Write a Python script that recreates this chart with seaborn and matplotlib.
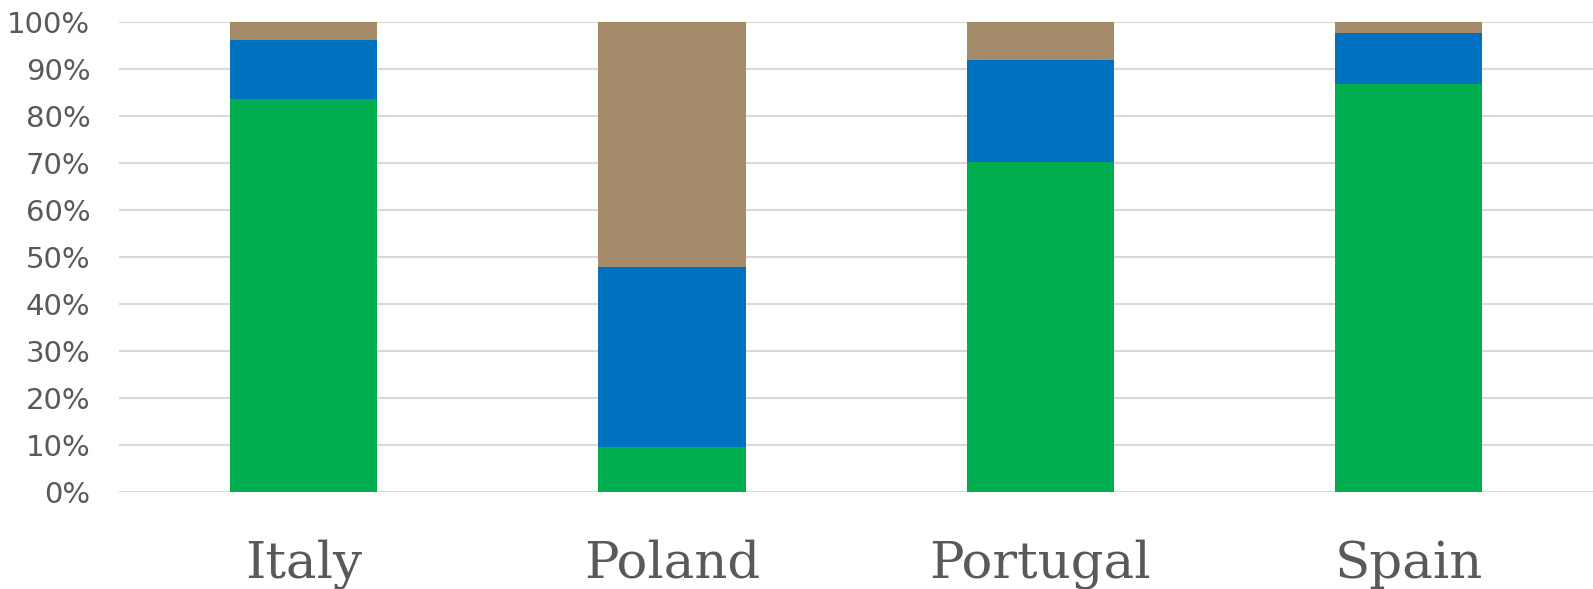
import numpy as np
import pandas as pd
import matplotlib.pyplot as plt
import seaborn as sns

# shares per country (percent)
countries = ['Italy', 'Poland', 'Portugal', 'Spain']
green_share = [83.6, 9.6, 70.3, 86.8]
blue_share = [12.6, 38.2, 21.6, 10.8]
brown_share = [3.8, 52.2, 8.1, 2.4]

df = pd.DataFrame({'country': countries,
                   'green': green_share,
                   'blue': blue_share,
                   'brown': brown_share})
df['green_blue'] = df['green'] + df['blue']
df['total'] = df['green_blue'] + df['brown']

sns.set_style('white')
plt.rcParams['font.family'] = ['DejaVu Sans']

fig = plt.figure(figsize=(15.93, 5.89), dpi=100)
ax = fig.add_axes([0.075, 0.1647, 0.925, 0.798])

# stacked bars drawn as overlapping cumulative totals
sns.barplot(x='country', y='total', data=df, color='#A38B69', width=0.4,
            saturation=1, linewidth=0, ax=ax, zorder=2)
sns.barplot(x='country', y='green_blue', data=df, color='#0070C0', width=0.4,
            saturation=1, linewidth=0, ax=ax, zorder=3)
sns.barplot(x='country', y='green', data=df, color='#00AE4F', width=0.4,
            saturation=1, linewidth=0, ax=ax, zorder=4)

ax.set_xlim(-0.5, 3.5)
ax.set_ylim(0, 100)
ax.set_yticks(np.arange(0, 101, 10))
ax.set_yticklabels([f'{v}%' for v in range(0, 101, 10)])
ax.yaxis.grid(True, color='#D9D9D9', linewidth=1.5, zorder=0)
ax.set_axisbelow(True)
for s in ax.spines.values():
    s.set_visible(False)
ax.set_xlabel('')
ax.set_ylabel('')
ax.tick_params(axis='y', length=0, labelsize=21, labelcolor='#595959', pad=21)
ax.tick_params(axis='x', length=0, labelsize=37, labelcolor='#595959', pad=34)
for lab in ax.get_xticklabels():
    lab.set_family('DejaVu Serif')

fig.savefig('out.png', dpi=100)
